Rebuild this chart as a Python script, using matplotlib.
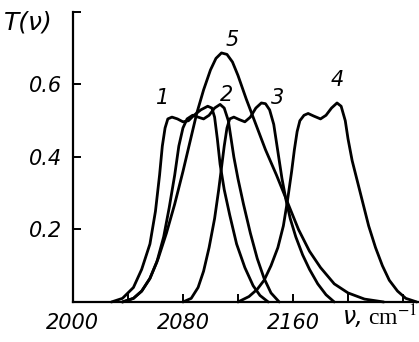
import matplotlib
matplotlib.use('Agg')
import matplotlib.pyplot as plt

plt.rcParams['mathtext.fontset'] = 'stix'

# ── Data ─────────────────────────────────────────────────────────────────────
c1_x = [2028, 2036, 2044, 2050, 2056, 2060, 2063, 2065, 2067, 2069, 2072, 2076, 2080, 2084,
        2088, 2093, 2098, 2101, 2103, 2105, 2107, 2110, 2114, 2119, 2125, 2131, 2136, 2142]
c1_y = [0.0, 0.01, 0.04, 0.09, 0.16, 0.25, 0.35, 0.43, 0.48, 0.505, 0.51, 0.505, 0.497, 0.50,
        0.515, 0.53, 0.54, 0.535, 0.51, 0.45, 0.38, 0.31, 0.24, 0.16, 0.095, 0.045, 0.018, 0.0]

c2_x = [2036, 2044, 2050, 2056, 2061, 2066, 2070, 2074, 2077, 2080, 2083, 2087, 2091, 2095,
        2099, 2103, 2107, 2110, 2113, 2115, 2117, 2120, 2124, 2129, 2134, 2139, 2144, 2150]
c2_y = [0.0, 0.01, 0.03, 0.065, 0.11, 0.18, 0.26, 0.35, 0.43, 0.48, 0.505, 0.515, 0.51, 0.505,
        0.515, 0.535, 0.545, 0.535, 0.50, 0.45, 0.40, 0.34, 0.27, 0.19, 0.12, 0.065, 0.025, 0.0]

c3_x = [2080, 2086, 2091, 2095, 2099, 2103, 2106, 2108, 2110, 2112, 2114, 2117, 2121, 2125,
        2129, 2133, 2137, 2140, 2143, 2146, 2148, 2150, 2152, 2155, 2158, 2162, 2167, 2172,
        2178, 2184, 2190]
c3_y = [0.0, 0.01, 0.04, 0.085, 0.15, 0.23, 0.31, 0.37, 0.43, 0.48, 0.505, 0.51, 0.503, 0.497,
        0.51, 0.535, 0.549, 0.547, 0.53, 0.49, 0.44, 0.39, 0.34, 0.28, 0.23, 0.18, 0.13, 0.09,
        0.05, 0.02, 0.0]

c4_x = [2120, 2128, 2134, 2139, 2144, 2149, 2153, 2156, 2159, 2161, 2163, 2165, 2168, 2171,
        2175, 2180, 2184, 2188, 2192, 2195, 2198, 2200, 2203, 2207, 2211, 2215, 2220, 2225,
        2230, 2236, 2242, 2250]
c4_y = [0.0, 0.015, 0.035, 0.06, 0.1, 0.15, 0.21, 0.28, 0.36, 0.42, 0.47, 0.5, 0.515, 0.52,
        0.513, 0.505, 0.515, 0.535, 0.549, 0.54, 0.5, 0.45, 0.39, 0.33, 0.27, 0.21, 0.15, 0.1,
        0.06, 0.03, 0.01, 0.0]

c5_x = [2036, 2044, 2050, 2056, 2062, 2068, 2074, 2080, 2085, 2090, 2095, 2100, 2104, 2108,
        2112, 2116, 2120, 2126, 2132, 2140, 2148, 2156, 2164, 2172, 2180, 2190, 2200, 2212, 2226]
c5_y = [0.0, 0.01, 0.03, 0.065, 0.12, 0.19, 0.27, 0.36, 0.44, 0.52, 0.585, 0.64, 0.672, 0.687,
        0.683, 0.662, 0.625, 0.56, 0.50, 0.42, 0.35, 0.275, 0.2, 0.14, 0.095, 0.05, 0.025,
        0.008, 0.0]

curve_labels = ['1', '2', '3', '4', '5']
label_x = [2065, 2112, 2149, 2192, 2116]
label_y = [0.562, 0.57, 0.563, 0.612, 0.723]

x_ticks = [2000, 2040, 2080, 2120, 2160, 2200, 2240]
x_ticklabels = ['2000', '', '2080', '', '2160', '', '']
y_ticks = [0.2, 0.4, 0.6, 0.8]
y_ticklabels = ['0.2', '0.4', '0.6', '']

# ── Plot ─────────────────────────────────────────────────────────────────────
fig = plt.figure(figsize=(4.19, 3.42), dpi=100)
ax = fig.add_axes([0.174, 0.117, 0.826, 0.848])

for xs, ys in [(c1_x, c1_y), (c2_x, c2_y), (c3_x, c3_y), (c4_x, c4_y), (c5_x, c5_y)]:
    ax.plot(xs, ys, color='black', lw=2.0, solid_joinstyle='round', solid_capstyle='round',
            clip_on=False)

for lab, lx, ly in zip(curve_labels, label_x, label_y):
    ax.text(lx, ly, lab, fontsize=15, style='italic', ha='center', va='center')

ax.set_xlim(2000, 2251.6)
ax.set_ylim(0, 0.8)
ax.spines['top'].set_visible(False)
ax.spines['right'].set_visible(False)
ax.spines['left'].set_linewidth(1.6)
ax.spines['bottom'].set_linewidth(1.6)

ax.set_xticks(x_ticks)
ax.set_xticklabels(x_ticklabels, fontsize=15, style='italic')
ax.set_yticks(y_ticks)
ax.set_yticklabels(y_ticklabels, fontsize=15, style='italic')
ax.tick_params(axis='both', direction='in', length=6, width=1.4, pad=8)

fig.text(0.01, 0.935, 'T(ν)', fontsize=18, style='italic', ha='left', va='center')
fig.text(0.818, 0.072, 'ν,', fontsize=17, style='italic', ha='left', va='center')
fig.text(0.878, 0.072, r'cm$^{-1}$', fontsize=17, ha='left', va='center',
         family='Liberation Serif')

fig.savefig('out.png', dpi=100)
